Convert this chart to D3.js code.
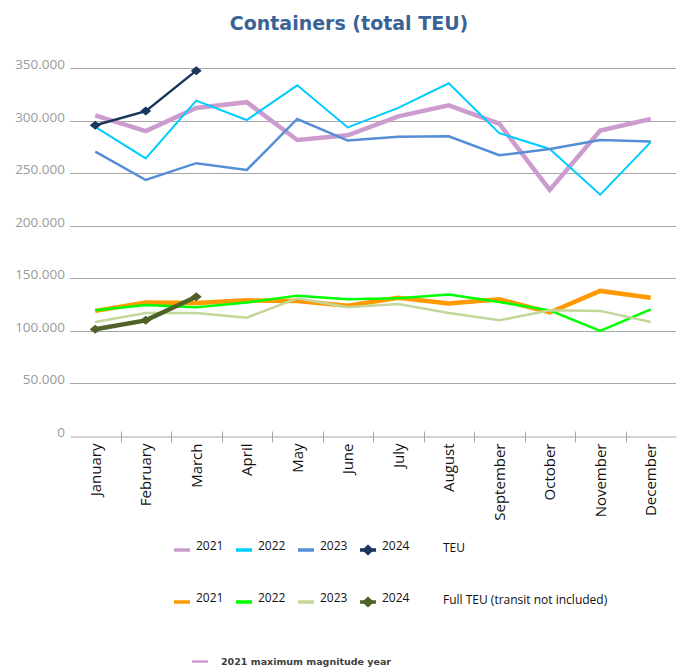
<!DOCTYPE html>
<html lang="en">
<head>
<meta charset="utf-8">
<title>Containers (total TEU)</title>
<script src="https://cdn.jsdelivr.net/npm/d3@7"></script>
<style>
  body { margin: 0; background: #fff; }
  text { font-family: "Open Sans", sans-serif; }
</style>
</head>
<body>
<script>
// data
var months = ["January", "February", "March", "April", "May", "June", "July",
              "August", "September", "October", "November", "December"];
var yTicks = [0, 50000, 100000, 150000, 200000, 250000, 300000, 350000];

var teu2021 = [305000, 290000, 312000, 317500, 281500, 286000, 304000, 314500, 297000, 234000, 290500, 301500];
var teu2022 = [294000, 264000, 319000, 300500, 333500, 293500, 312000, 335500, 288000, 273000, 229500, 279500];
var teu2023 = [270500, 243500, 259500, 253000, 301500, 281000, 284500, 285000, 267000, 273000, 281500, 280000];
var teu2024 = [295500, 309000, 347500];

var full2021 = [119000, 127000, 126500, 129000, 128500, 124000, 131500, 126000, 130000, 117500, 138000, 131500];
var full2022 = [119500, 124500, 122500, 127000, 133500, 130000, 131000, 134500, 127500, 119500, 100000, 120500];
var full2023 = [108500, 117000, 117000, 112500, 131000, 122500, 125500, 117000, 110000, 119500, 119000, 108500];
var full2024 = [101500, 110000, 132500];

var seriesNames = ["2021", "2022", "2023", "2024"];

var series = [
  {values: teu2021, color: "#cc9ccf", width: 4.5, marker: false},
  {values: teu2022, color: "#00ccff", width: 2, marker: false},
  {values: teu2023, color: "#558ed5", width: 2.5, marker: false},
  {values: teu2024, color: "#1b365d", width: 2.5, marker: true},
  {values: full2021, color: "#ff9900", width: 4.5, marker: false},
  {values: full2022, color: "#00ff00", width: 2.5, marker: false},
  {values: full2023, color: "#c4d79b", width: 2.5, marker: false},
  {values: full2024, color: "#4f6228", width: 4.5, marker: true}
];

var W = 685, H = 668;
var margin = {top: 68, left: 70, right: 9, bottom: 232};

var svg = d3.select("body").append("svg")
  .attr("width", W)
  .attr("height", H);

var x = d3.scaleBand()
  .domain(months)
  .range([margin.left, W - margin.right]);

var y = d3.scaleLinear()
  .domain([0, 350000])
  .range([H - margin.bottom, margin.top]);

var fmt = function(v) { return v === 0 ? "0" : d3.format(",")(v).replace(/,/g, "."); };

// flat diamond like the excel marker
function diamondPath(hw, hh) {
  return "M" + (-hw) + ",0L0," + (-hh) + "L" + hw + ",0L0," + hh + "Z";
}

// title
svg.append("text")
  .attr("x", 349)
  .attr("y", 30)
  .attr("text-anchor", "middle")
  .style("font-family", "'DejaVu Sans', sans-serif")
  .style("font-weight", "bold")
  .style("font-size", "19px")
  .attr("fill", "#3a6395")
  .text("Containers (total TEU)");

// gridlines
svg.append("g")
  .selectAll("line")
  .data(yTicks.filter(function(d) { return d > 0; }))
  .enter().append("line")
  .attr("x1", margin.left)
  .attr("x2", W - margin.right)
  .attr("y1", function(d) { return Math.round(y(d)) + 0.5; })
  .attr("y2", function(d) { return Math.round(y(d)) + 0.5; })
  .attr("stroke", "#a6a6a6")
  .attr("stroke-width", 1.2);

// y labels
svg.append("g")
  .selectAll("text")
  .data(yTicks)
  .enter().append("text")
  .attr("x", 65)
  .attr("y", function(d) { return y(d) + 1; })
  .attr("text-anchor", "end")
  .attr("fill", "#9a9a9a")
  .style("font-size", "13.5px")
  .text(fmt);

// x axis
var xAxis = d3.axisBottom(x).tickSize(0).tickFormat("");
var gx = svg.append("g")
  .attr("transform", "translate(0," + (Math.round(y(0)) + 0.5) + ")")
  .call(xAxis);
gx.select(".domain").attr("stroke", "#a6a6a6").attr("stroke-width", 1.2);

gx.selectAll(".bound")
  .data(months.slice(1))
  .enter().append("line")
  .attr("class", "bound")
  .attr("x1", function(d) { return Math.round(x(d)) + 0.5; })
  .attr("x2", function(d) { return Math.round(x(d)) + 0.5; })
  .attr("y1", -5)
  .attr("y2", 6)
  .attr("stroke", "#a6a6a6");

gx.selectAll(".mlabel")
  .data(months)
  .enter().append("text")
  .attr("class", "mlabel")
  .attr("transform", function(d) {
    return "translate(" + (x(d) + x.bandwidth() / 2) + ",7) rotate(-90)";
  })
  .attr("dy", "0.35em")
  .attr("text-anchor", "end")
  .attr("fill", "#111")
  .style("font-size", "15px")
  .text(function(d) { return d; });

// lines
var line = d3.line()
  .x(function(d, i) { return x(months[i]) + x.bandwidth() / 2; })
  .y(function(d) { return y(d); });

series.forEach(function(s) {
  svg.append("path")
    .datum(s.values)
    .attr("d", line)
    .attr("fill", "none")
    .attr("stroke", s.color)
    .attr("stroke-width", s.width)
    .attr("stroke-linejoin", "miter");
  if (s.marker) {
    svg.append("g").selectAll("path")
      .data(s.values)
      .enter().append("path")
      .attr("d", diamondPath(5.5, 4.5))
      .attr("transform", function(d, i) {
        return "translate(" + (x(months[i]) + x.bandwidth() / 2) + "," + y(d) + ")";
      })
      .attr("fill", s.color);
  }
});

// legend
var legendRows = [
  {y: 550, items: series.slice(0, 4), label: "TEU"},
  {y: 602, items: series.slice(4, 8), label: "Full TEU (transit not included)"}
];
var legendX = [174, 236, 298, 360];

legendRows.forEach(function(row) {
  var g = svg.append("g");
  row.items.forEach(function(s, i) {
    g.append("line")
      .attr("x1", legendX[i]).attr("x2", legendX[i] + 16)
      .attr("y1", row.y).attr("y2", row.y)
      .attr("stroke", s.color)
      .attr("stroke-width", 3.5);
    if (s.marker) {
      g.append("path")
        .attr("d", diamondPath(6, 5.5))
        .attr("transform", "translate(" + (legendX[i] + 8) + "," + row.y + ")")
        .attr("fill", s.color);
    }
    g.append("text")
      .attr("x", legendX[i] + 22)
      .attr("y", row.y)
      .attr("fill", "#111")
      .style("font-size", "12px")
      .text(seriesNames[i]);
  });
  g.append("text")
    .attr("x", 443)
    .attr("y", row.y + 1.5)
    .attr("fill", "#111")
    .style("font-size", "12px")
    .text(row.label);
});

svg.append("line")
  .attr("x1", 192).attr("x2", 208)
  .attr("y1", 661.5).attr("y2", 661.5)
  .attr("stroke", "#cc9ccf")
  .attr("stroke-width", 2.5);
svg.append("text")
  .attr("x", 221)
  .attr("y", 665)
  .attr("fill", "#404040")
  .style("font-family", "'DejaVu Sans', sans-serif")
  .style("font-weight", "bold")
  .style("font-size", "9.5px")
  .text("2021 maximum magnitude year");
</script>
</body>
</html>
